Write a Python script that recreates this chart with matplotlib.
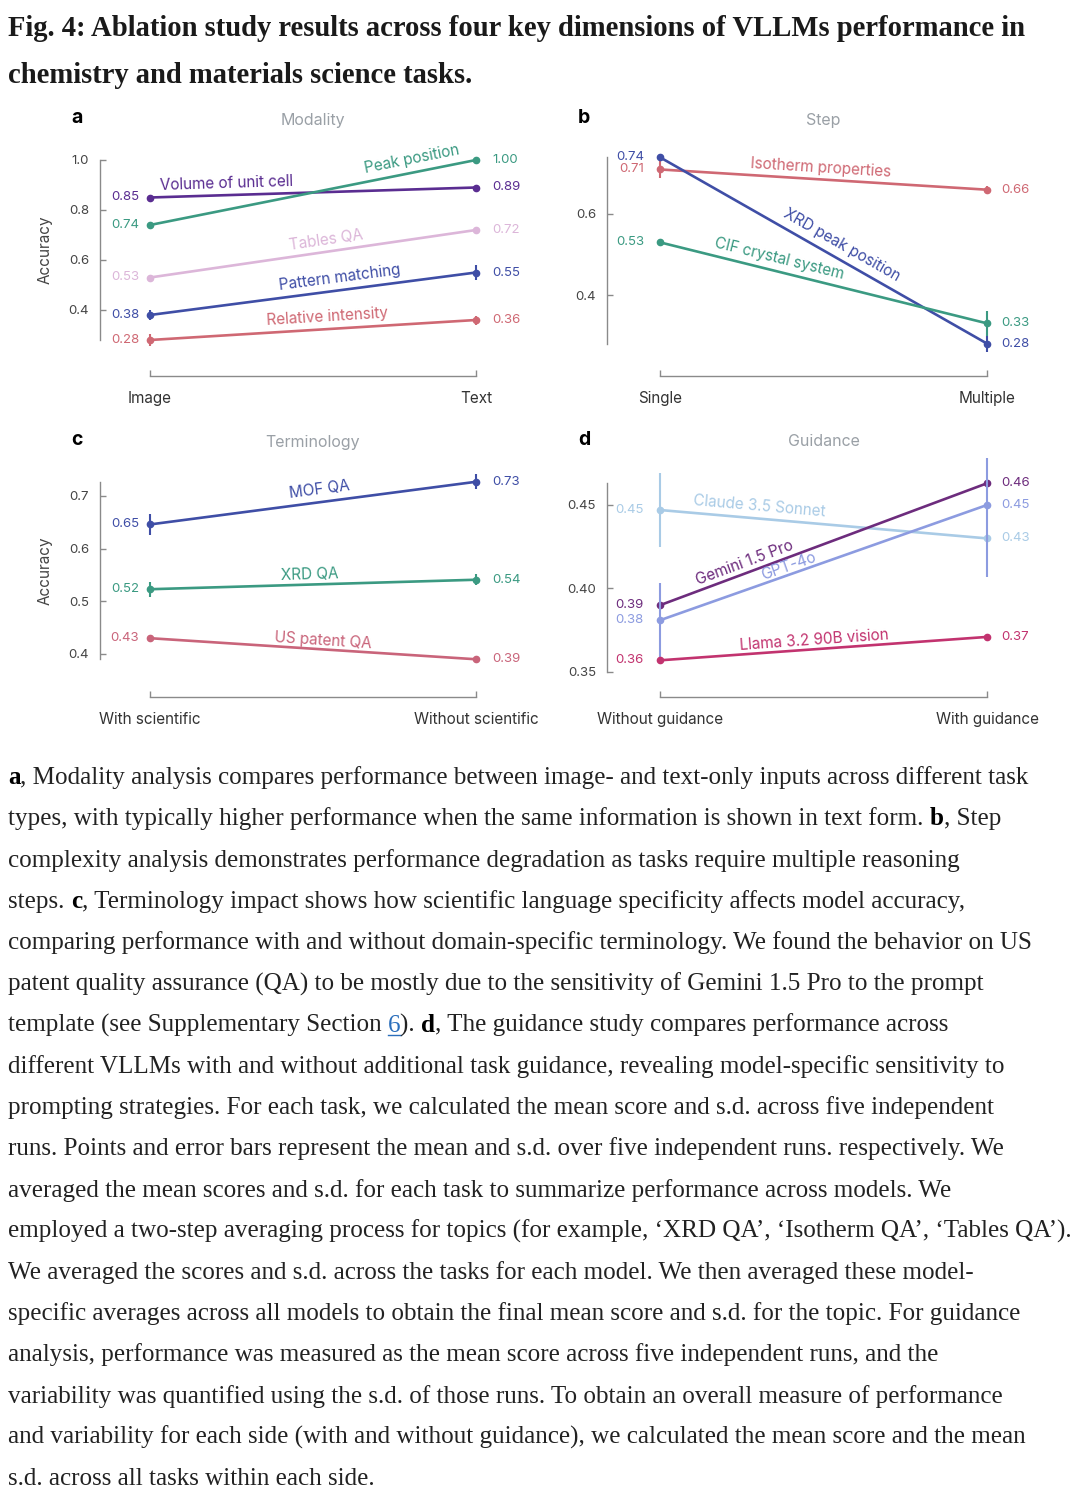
import math

import numpy as np
import matplotlib
matplotlib.use("Agg")
import matplotlib.pyplot as plt

W, H, DPI = 1080, 1495, 100

# ---------------- data ----------------
# a: modality
mod_x = ["Image", "Text"]
mod_names = ["Volume of unit cell", "Peak position", "Tables QA", "Pattern matching", "Relative intensity"]
mod_vals = [[0.85, 0.89], [0.74, 1.00], [0.53, 0.72], [0.38, 0.55], [0.28, 0.36]]
mod_err_lo = [[0.005, 0.005], [0.004, 0.004], [0.004, 0.004], [0.02, 0.03], [0.023, 0.018]]
mod_err_hi = mod_err_lo
mod_ticks = [0.4, 0.6, 0.8, 1.0]

# b: step
step_x = ["Single", "Multiple"]
step_names = ["Isotherm properties", "XRD peak position", "CIF crystal system"]
step_vals = [[0.71, 0.66], [0.74, 0.28], [0.53, 0.33]]
step_err_lo = [[0.02, 0.008], [0.005, 0.02], [0.003, 0.03]]
step_err_hi = step_err_lo
step_ticks = [0.4, 0.6]

# c: terminology
term_x = ["With scientific", "Without scientific"]
term_names = ["MOF QA", "XRD QA", "US patent QA"]
term_vals = [[0.646, 0.727], [0.523, 0.541], [0.43, 0.39]]
term_err_lo = [[0.02, 0.014], [0.014, 0.01], [0.003, 0.003]]
term_err_hi = term_err_lo
term_ticks = [0.4, 0.5, 0.6, 0.7]

# d: guidance
guid_x = ["Without guidance", "With guidance"]
guid_names = ["Claude 3.5 Sonnet", "Gemini 1.5 Pro", "GPT-4o", "Llama 3.2 90B vision"]
guid_vals = [[0.447, 0.43], [0.39, 0.463], [0.381, 0.45], [0.357, 0.371]]
guid_err_lo = [[0.022, 0.0], [0.0, 0.0], [0.022, 0.043], [0.0, 0.0]]
guid_err_hi = [[0.022, 0.0], [0.0, 0.0], [0.022, 0.028], [0.0, 0.0]]
guid_ticks = [0.35, 0.40, 0.45]

# colours
PURPLE = "#5a2d91"
TEAL = "#3b9a82"
PINK = "#dcb6d9"
BLUE = "#3f4ea6"
SALMON = "#cf6873"
mod_cols = [PURPLE, TEAL, PINK, BLUE, SALMON]
step_cols = [SALMON, BLUE, TEAL]
term_cols = [BLUE, TEAL, "#c9647a"]
guid_cols = ["#a9cbe6", "#6d2c7d", "#8c9be0", "#c2336f"]

# label placement along each line: (fraction, offset px)
mod_lab = [(0.235, 12), (0.81, 13), (0.546, 12), (0.586, 13), (0.546, 12)]
step_lab = [(0.49, 12), (0.535, 14), (0.355, 13)]
term_lab = [(0.525, 13), (0.49, 10), (0.53, 9)]
guid_lab = [(0.30, 12), (0.27, 10), (0.40, 8), (0.474, 9)]

plt.rcParams['font.family'] = ['Inter', 'DejaVu Sans']
SERIF = ['Liberation Serif', 'DejaVu Serif']
INK = "#222222"
SPINE = "#8a8a8a"

fig = plt.figure(figsize=(W / DPI, H / DPI), dpi=DPI)
fig.patch.set_facecolor("white")


def px_axes(l, t, r, b):
    return fig.add_axes([l / W, 1 - b / H, (r - l) / W, (b - t) / H])


def panel(box, xpx, ycal, letter, title, xlabels, names, vals, elo, ehi, cols, labs,
          ticks, fmt, ylab, loff, roff, order=None):
    l, t, r, b = box
    ax = px_axes(l, t, r, b)
    s = xpx[1] - xpx[0]
    ax.set_xlim(-(xpx[0] - l) / s, 1 + (r - xpx[1]) / s)
    (va, pa), (vb, pb) = ycal
    k = (pb - pa) / (va - vb)
    ax.set_ylim(va - (b - pa) / k, va + (pa - t) / k)
    ax.patch.set_alpha(0)

    allv = np.array(vals)
    lo = min(allv.min(), min(ticks))
    hi = max(allv.max(), max(ticks))
    for side in ["top", "right"]:
        ax.spines[side].set_visible(False)
    for side in ["left", "bottom"]:
        ax.spines[side].set_color(SPINE)
        ax.spines[side].set_linewidth(1.0)
    ax.spines["left"].set_bounds(lo, hi)
    ax.spines["bottom"].set_bounds(0, 1)
    ax.set_yticks(ticks)
    ax.set_yticklabels([fmt.format(v) for v in ticks])
    ax.set_xticks([0, 1])
    ax.set_xticklabels(xlabels)
    ax.tick_params(axis="y", direction="in", length=4, width=1, color=SPINE,
                   labelsize=9.5, labelcolor="#444444", pad=8)
    ax.tick_params(axis="x", direction="in", length=4, width=1, color=SPINE,
                   labelsize=11, labelcolor="#333333", pad=11)

    idx = order if order is not None else range(len(names))
    for i in idx:
        y = vals[i]
        ax.errorbar([0, 1], y, yerr=[elo[i], ehi[i]], color=cols[i], lw=1.9,
                    marker="o", ms=4.5, elinewidth=1.5, capsize=0, clip_on=False, zorder=3 + i)
    for i in range(len(names)):
        y0, y1 = vals[i]
        col = cols[i]
        ax.annotate(f"{y0:.2f}", (0, y0), xytext=(-loff, 0), textcoords="offset pixels",
                    ha="right", va="center", color=col, fontsize=9.5)
        ax.annotate(f"{y1:.2f}", (1, y1), xytext=(roff, 0), textcoords="offset pixels",
                    ha="left", va="center", color=col, fontsize=9.5)
        p0 = ax.transData.transform((0, y0))
        p1 = ax.transData.transform((1, y1))
        th = math.atan2(p1[1] - p0[1], p1[0] - p0[0])
        f, off = labs[i]
        ax.annotate(names[i], (f, y0 + f * (y1 - y0)),
                    xytext=(-off * math.sin(th), off * math.cos(th)), textcoords="offset pixels",
                    ha="center", va="center", rotation=math.degrees(th), rotation_mode="anchor",
                    color=col, fontsize=11, zorder=10)

    cx = ax.transData.transform((0.5, 0))[0]
    fig.text(cx / W, 1 - (t - 20) / H, title, ha="center", va="center", fontsize=11.5, color="#9aa0a6")
    fig.text((l - 23) / W, 1 - (t - 22) / H, letter, ha="center", va="center",
             fontsize=14, fontweight="bold", color="black")
    if ylab:
        mid = ax.transData.transform((0, (lo + hi) / 2))[1]
        fig.text(45 / W, mid / H, "Accuracy", rotation=90, ha="center", va="center",
                 fontsize=11, color="#444444")
    return ax


panel((100, 140, 540, 376), (150, 476), ((1.0, 160), (0.4, 310)), "a", "Modality", mod_x,
      mod_names, mod_vals, mod_err_lo, mod_err_hi, mod_cols, mod_lab, mod_ticks, "{:.1f}", True, 11, 16)
panel((607, 140, 1075, 376), (660, 987), ((0.6, 214), (0.4, 295)), "b", "Step", step_x,
      step_names, step_vals, step_err_lo, step_err_hi, step_cols, step_lab, step_ticks, "{:.1f}", False, 16, 14)
panel((100, 462, 540, 697), (150, 476), ((0.7, 496), (0.4, 654)), "c", "Terminology", term_x,
      term_names, term_vals, term_err_lo, term_err_hi, term_cols, term_lab, term_ticks, "{:.1f}", True, 11, 16)
panel((607, 462, 1075, 697), (660, 987), ((0.45, 505), (0.35, 672)), "d", "Guidance", guid_x,
      guid_names, guid_vals, guid_err_lo, guid_err_hi, guid_cols, guid_lab, guid_ticks, "{:.2f}", False, 16, 14,
      order=[0, 2, 3, 1])

# ---------------- title and caption text ----------------
renderer = fig.canvas.get_renderer()
_bar = {}


def text_width(s, size, weight):
    key = (size, weight)
    if key not in _bar:
        t = fig.text(0, 0, "||", fontsize=size, fontweight=weight, family=SERIF)
        _bar[key] = t.get_window_extent(renderer).width
        t.remove()
    t = fig.text(0, 0, "|" + s + "|", fontsize=size, fontweight=weight, family=SERIF)
    w = t.get_window_extent(renderer).width - _bar[key]
    t.remove()
    return w


def line_width(segs, size, base_weight="normal"):
    return sum(text_width(s, size, "bold" if st == "b" else base_weight) for s, st in segs)


def draw_line(segs, x, base, size, base_weight="normal", color=INK):
    for s, st in segs:
        weight = "bold" if st == "b" else base_weight
        c = "#2a6ebb" if st == "u" else ("black" if st == "b" else color)
        fig.text(x / W, 1 - base / H, s, fontsize=size, fontweight=weight, color=c,
                 family=SERIF, ha="left", va="baseline")
        w = text_width(s, size, weight)
        if st == "u":
            fig.add_artist(plt.Line2D([x / W, (x + w) / W], [1 - (base + 3) / H] * 2,
                                      transform=fig.transFigure, color=c, lw=1))
        x += w


title_lines = [
    [("Fig. 4: Ablation study results across four key dimensions of VLLMs performance in", "n")],
    [("chemistry and materials science tasks.", "n")],
]
tsize = 20 * 1017 / line_width(title_lines[0], 20, "bold")
for i, segs in enumerate(title_lines):
    draw_line(segs, 8, 36 + 47 * i, tsize, base_weight="bold", color="#1a1a1a")

caption = [
    [("a", "b"), (", Modality analysis compares performance between image- and text-only inputs across different task", "n")],
    [("types, with typically higher performance when the same information is shown in text form. ", "n"), ("b", "b"), (", Step", "n")],
    [("complexity analysis demonstrates performance degradation as tasks require multiple reasoning", "n")],
    [("steps. ", "n"), ("c", "b"), (", Terminology impact shows how scientific language specificity affects model accuracy,", "n")],
    [("comparing performance with and without domain-specific terminology. We found the behavior on US", "n")],
    [("patent quality assurance (QA) to be mostly due to the sensitivity of Gemini 1.5 Pro to the prompt", "n")],
    [("template (see Supplementary Section ", "n"), ("6", "u"), ("). ", "n"), ("d", "b"),
     (", The guidance study compares performance across", "n")],
    [("different VLLMs with and without additional task guidance, revealing model-specific sensitivity to", "n")],
    [("prompting strategies. For each task, we calculated the mean score and s.d. across five independent", "n")],
    [("runs. Points and error bars represent the mean and s.d. over five independent runs. respectively. We", "n")],
    [("averaged the mean scores and s.d. for each task to summarize performance across models. We", "n")],
    [("employed a two-step averaging process for topics (for example, \u2018XRD QA\u2019, \u2018Isotherm QA\u2019, \u2018Tables QA\u2019).", "n")],
    [("We averaged the scores and s.d. across the tasks for each model. We then averaged these model-", "n")],
    [("specific averages across all models to obtain the final mean score and s.d. for the topic. For guidance", "n")],
    [("analysis, performance was measured as the mean score across five independent runs, and the", "n")],
    [("variability was quantified using the s.d. of those runs. To obtain an overall measure of performance", "n")],
    [("and variability for each side (with and without guidance), we calculated the mean score and the mean", "n")],
    [("s.d. across all tasks within each side.", "n")],
]
# widest line must stay inside the page
csize = min(20 * 1064 / line_width(segs, 20) for segs in caption)
for i, segs in enumerate(caption):
    draw_line(segs, 8, 784 + 41.25 * i, csize)

fig.savefig("out.png", dpi=DPI, facecolor="white")
